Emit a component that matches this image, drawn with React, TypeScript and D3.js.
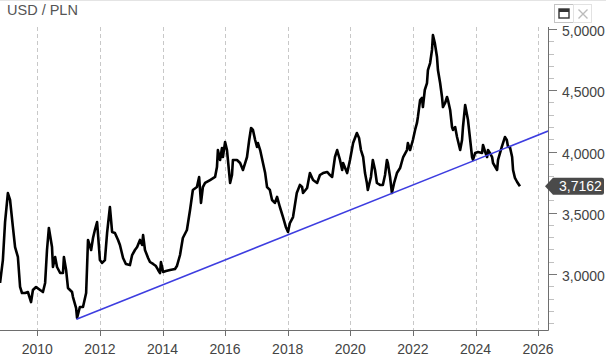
import React from "react";
import * as d3 from "d3";

const yearTicks = [2010, 2012, 2014, 2016, 2018, 2020, 2022, 2024, 2026];
const valueTicks = [3.0, 3.5, 4.0, 4.5, 5.0];
const lastValueLabel = "3,7162";
const title = "USD / PLN";

const dates = [
  2008.81, 2008.9, 2008.97, 2009.06, 2009.13, 2009.22, 2009.29, 2009.38, 2009.45, 2009.51,
  2009.61, 2009.7, 2009.8, 2009.86, 2009.96, 2010.09, 2010.18, 2010.25, 2010.31, 2010.37,
  2010.47, 2010.5, 2010.57, 2010.63, 2010.73, 2010.82, 2010.85, 2010.92, 2010.98, 2011.11,
  2011.14, 2011.24, 2011.27, 2011.36, 2011.46, 2011.56, 2011.59, 2011.62, 2011.72, 2011.78,
  2011.84, 2011.91, 2011.97, 2012.0, 2012.07, 2012.16, 2012.23, 2012.32, 2012.39, 2012.48,
  2012.58, 2012.64, 2012.74, 2012.83, 2012.96, 2013.03, 2013.12, 2013.19, 2013.28, 2013.35,
  2013.38, 2013.44, 2013.54, 2013.6, 2013.7, 2013.79, 2013.86, 2013.92, 2013.95, 2014.02,
  2014.11, 2014.24, 2014.4, 2014.46, 2014.56, 2014.65, 2014.78, 2014.88, 2014.97, 2015.1,
  2015.17, 2015.23, 2015.29, 2015.36, 2015.52, 2015.68, 2015.74, 2015.77, 2015.84, 2015.9,
  2015.93, 2016.0, 2016.06, 2016.09, 2016.16, 2016.22, 2016.25, 2016.38, 2016.48, 2016.57,
  2016.64, 2016.7, 2016.77, 2016.83, 2016.89, 2016.96, 2017.02, 2017.05, 2017.12, 2017.21,
  2017.28, 2017.34, 2017.43, 2017.5, 2017.59, 2017.66, 2017.75, 2017.85, 2017.94, 2018.01,
  2018.07, 2018.17, 2018.29, 2018.39, 2018.46, 2018.49, 2018.62, 2018.71, 2018.81, 2018.94,
  2019.03, 2019.13, 2019.26, 2019.35, 2019.42, 2019.51, 2019.58, 2019.67, 2019.74, 2019.77,
  2019.9, 2019.99, 2020.09, 2020.21, 2020.28, 2020.34, 2020.41, 2020.47, 2020.53, 2020.56,
  2020.66, 2020.72, 2020.79, 2020.85, 2020.95, 2021.04, 2021.11, 2021.17, 2021.2, 2021.27,
  2021.33, 2021.4, 2021.49, 2021.59, 2021.69, 2021.81, 2021.84, 2021.91, 2022.0, 2022.07,
  2022.13, 2022.16, 2022.23, 2022.29, 2022.32, 2022.38, 2022.45, 2022.48, 2022.55, 2022.61,
  2022.64, 2022.7, 2022.77, 2022.8, 2022.87, 2022.93, 2022.96, 2023.03, 2023.09, 2023.12,
  2023.19, 2023.25, 2023.28, 2023.35, 2023.41, 2023.51, 2023.57, 2023.6, 2023.67, 2023.7,
  2023.76, 2023.83, 2023.89, 2023.92, 2023.99, 2024.08, 2024.21, 2024.24, 2024.31, 2024.37,
  2024.4, 2024.46, 2024.53, 2024.56, 2024.69, 2024.72, 2024.84, 2024.94, 2025.0, 2025.04,
  2025.1, 2025.17, 2025.2, 2025.26, 2025.33, 2025.42,
];

const usdPln = [
  2.927, 3.114, 3.424, 3.661, 3.604, 3.384, 3.22, 3.139, 2.894, 2.845,
  2.845, 2.853, 2.771, 2.869, 2.894, 2.869, 2.853, 2.927, 3.196, 3.376,
  3.22, 3.057, 3.139, 3.057, 3.008, 3.008, 3.139, 3.033, 2.886, 2.853,
  2.812, 2.722, 2.641, 2.731, 2.731, 2.845, 3.057, 3.278, 3.196, 3.294,
  3.359, 3.424, 3.22, 3.114, 3.09, 3.114, 3.335, 3.547, 3.343, 3.335,
  3.278, 3.237, 3.131, 3.082, 3.073, 3.155, 3.196, 3.22, 3.278, 3.237,
  3.318, 3.196, 3.131, 3.098, 3.082, 3.065, 3.033, 3.008, 3.098, 3.016,
  3.024, 3.033, 3.041, 3.065, 3.155, 3.294, 3.359, 3.522, 3.686, 3.71,
  3.792, 3.58, 3.71, 3.743, 3.767, 3.792, 3.873, 4.012, 3.931, 4.029,
  3.955, 4.078, 4.012, 3.931, 3.743, 3.808, 3.931, 3.931, 3.906, 3.849,
  3.906, 3.955, 4.094, 4.192, 4.176, 4.094, 4.037, 4.069, 4.012, 3.906,
  3.824, 3.71, 3.686, 3.604, 3.58, 3.629, 3.547, 3.465, 3.384, 3.343,
  3.416, 3.465, 3.661, 3.727, 3.71, 3.661, 3.702, 3.824, 3.767, 3.743,
  3.808, 3.824, 3.833, 3.808, 3.792, 3.955, 4.012, 3.931, 3.849, 3.906,
  3.824, 3.931, 4.069, 4.151, 4.11, 4.012, 3.955, 3.824, 3.743, 3.686,
  3.792, 3.931, 3.849, 3.743, 3.727, 3.727, 3.808, 3.931, 3.906, 3.792,
  3.661, 3.743, 3.824, 3.865, 3.955, 4.012, 4.069, 4.012, 4.094, 4.176,
  4.233, 4.282, 4.42, 4.437, 4.363, 4.502, 4.559, 4.665, 4.722, 4.829,
  4.951, 4.886, 4.771, 4.665, 4.559, 4.445, 4.363, 4.396, 4.445, 4.42,
  4.339, 4.2, 4.176, 4.2, 4.118, 4.012, 4.094, 4.2, 4.38, 4.339,
  4.257, 4.094, 3.955, 3.931, 3.988, 3.996, 3.988, 4.053, 3.996, 3.955,
  4.012, 3.988, 3.955, 3.906, 3.849, 3.931, 4.037, 4.118, 4.094, 4.037,
  4.037, 3.955, 3.849, 3.784, 3.751, 3.716,
];

const trendDates = [2011.25, 2026.32];
const trendValues = [2.63, 4.167];

const W = 606;
const H = 360;
const plotLeft = 0;
const plotRight = 548;
const plotTop = 27;
const plotBottom = 330;

export default function App() {
  const x = d3.scaleLinear().domain([2010, 2026]).range([37.3, 538.1]);
  const y = d3.scaleLinear().domain([3, 5]).range([274, 29]);

  const series = dates.map((d, i) => [d, usdPln[i]] as [number, number]);
  const line = d3
    .line<[number, number]>()
    .x((d) => x(d[0]))
    .y((d) => y(d[1]));

  const trend = trendDates.map((d, i) => [d, trendValues[i]] as [number, number]);

  const minorTicks = d3.range(26, 51).map((v) => v / 10).filter((v) => y(v) >= plotTop && y(v) <= plotBottom);

  const lastV = usdPln[usdPln.length - 1];
  const ly = y(lastV);
  const font = "Arial, 'Liberation Sans', sans-serif";

  return (
    <div style={{ position: "fixed", left: 0, top: 0 }}>
      <svg width={W} height={H} style={{ display: "block", background: "#fff" }} fontFamily={font}>
        <defs>
          <clipPath id="plotClip">
            <rect x={plotLeft} y={plotTop} width={plotRight - plotLeft} height={plotBottom - plotTop} />
          </clipPath>
        </defs>
        <line x1={0} x2={W} y1={0.5} y2={0.5} stroke="#e4e4e4" />
        <text x={7} y={15} fontSize={14.5} fill="#555">
          {title}
        </text>

        {/* buttons */}
        <rect x={554.5} y={4.5} width={19} height={18} fill="#fff" stroke="#c4c4c4" />
        <rect x={573.5} y={4.5} width={18} height={18} fill="#fff" stroke="#e2e2e2" />
        <rect x={559} y={9} width={10} height={9} fill="none" stroke="#333" strokeWidth={1.4} />
        <rect x={559} y={9} width={10} height={3} fill="#333" />
        <path d="M578.5,9.5 L587.5,18.5 M587.5,9.5 L578.5,18.5" stroke="#bbb" strokeWidth={1.4} />

        {/* vertical dashed grid */}
        {yearTicks.map((t) => (
          <line
            key={"g" + t}
            x1={Math.round(x(t)) + 0.5}
            x2={Math.round(x(t)) + 0.5}
            y1={plotTop}
            y2={plotBottom}
            stroke="#c8c8c8"
            strokeDasharray="4,3"
          />
        ))}

        {/* axes frame */}
        <line x1={plotLeft} x2={plotRight + 0.5} y1={plotBottom + 0.5} y2={plotBottom + 0.5} stroke="#6e6e6e" />
        <line x1={plotRight + 0.5} x2={plotRight + 0.5} y1={plotTop} y2={plotBottom + 0.5} stroke="#6e6e6e" />

        {/* x ticks & labels */}
        {yearTicks.map((t) => (
          <g key={"x" + t}>
            <line
              x1={Math.round(x(t)) + 0.5}
              x2={Math.round(x(t)) + 0.5}
              y1={plotBottom}
              y2={plotBottom + 6}
              stroke="#6e6e6e"
            />
            <text x={x(t)} y={354} fontSize={14} fill="#444" textAnchor="middle">
              {t}
            </text>
          </g>
        ))}

        {/* y minor ticks */}
        {minorTicks.map((v) => (
          <line
            key={"m" + v}
            x1={plotRight + 1}
            x2={plotRight + 6}
            y1={Math.round(y(v)) + 0.5}
            y2={Math.round(y(v)) + 0.5}
            stroke="#c0c0c0"
          />
        ))}
        {/* y major ticks & labels */}
        {valueTicks.map((v) => (
          <g key={"y" + v}>
            <line
              x1={plotRight + 1}
              x2={plotRight + 9}
              y1={Math.round(y(v)) + 0.5}
              y2={Math.round(y(v)) + 0.5}
              stroke="#777"
            />
            <text x={562} y={y(v) + 7} fontSize={14} fill="#444">
              {v.toFixed(4).replace(".", ",")}
            </text>
          </g>
        ))}

        <g clipPath="url(#plotClip)">
          <path d={line(series) || ""} fill="none" stroke="#000" strokeWidth={2.6} strokeLinejoin="round" />
          <path d={line(trend) || ""} fill="none" stroke="#3d3de0" strokeWidth={1.6} />
        </g>

        {/* last value label */}
        <path
          d={`M545,${ly} L553,${ly - 8.5} L602,${ly - 8.5} Q604,${ly - 8.5} 604,${ly - 6.5} L604,${ly + 6.5} Q604,${ly + 8.5} 602,${ly + 8.5} L553,${ly + 8.5} Z`}
          fill="#4a4a4a"
        />
        <text x={559} y={ly + 5} fontSize={14} fill="#fff">
          {lastValueLabel}
        </text>
      </svg>
    </div>
  );
}
